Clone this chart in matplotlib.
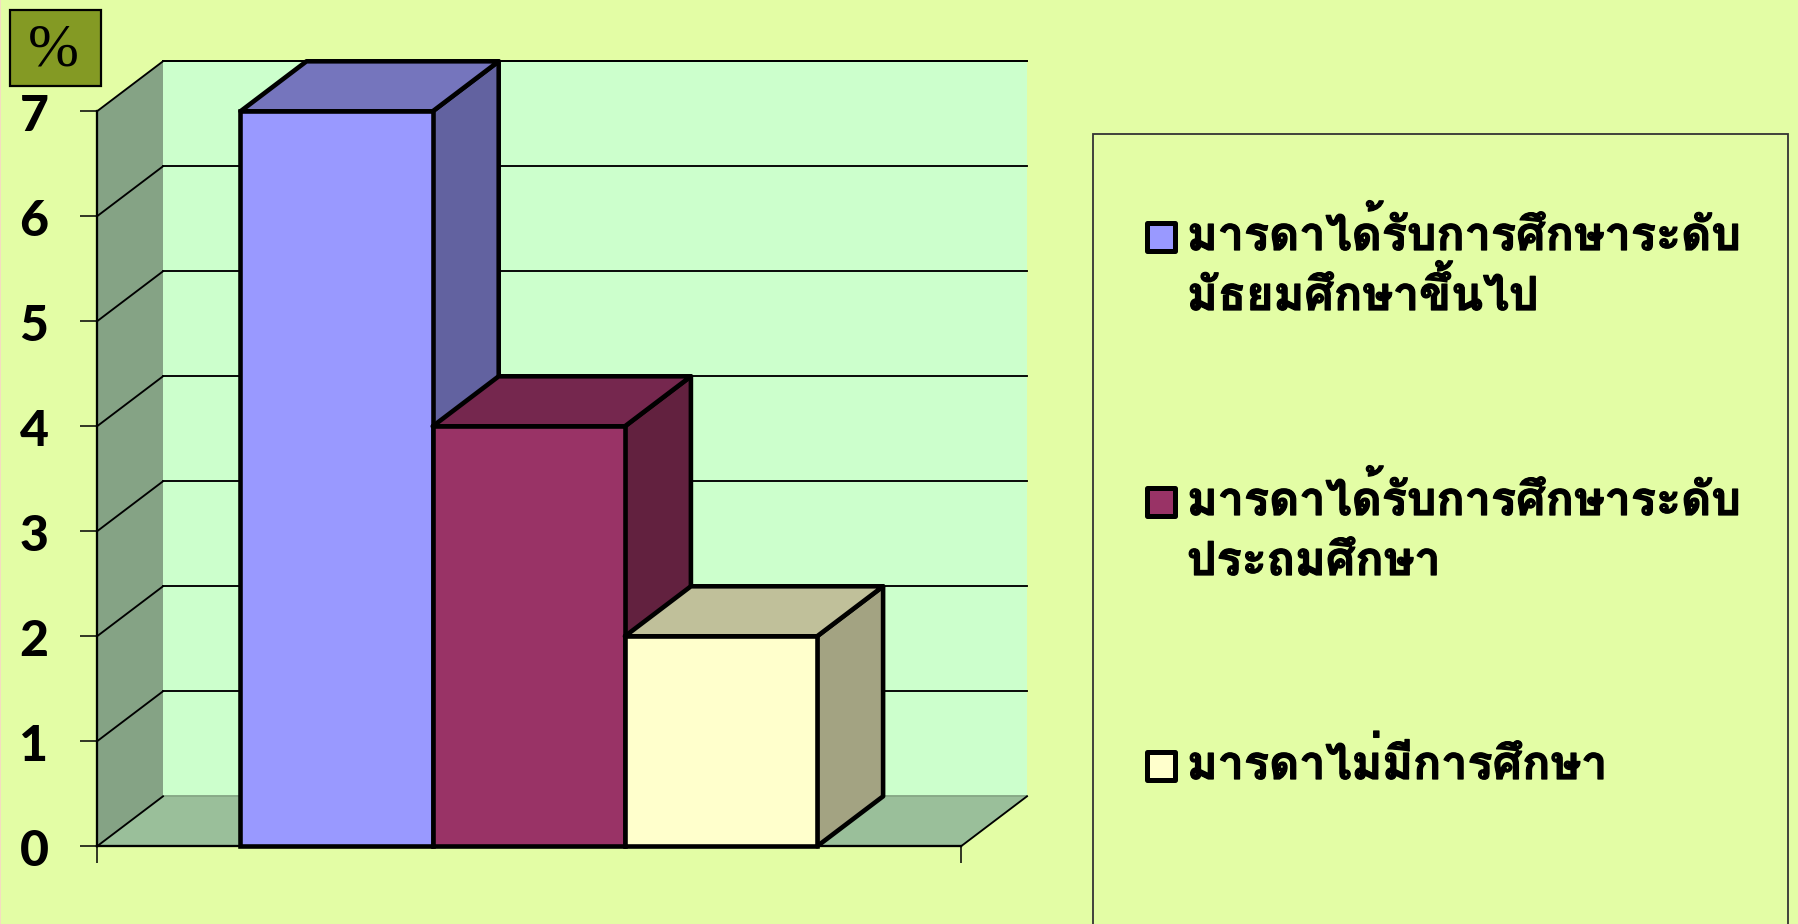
import matplotlib
matplotlib.use('Agg')
import matplotlib.pyplot as plt
import matplotlib.patheffects as pe
from matplotlib.patches import Rectangle, Polygon

W, H = 1799, 924
values = [7, 4, 2]
series_labels = [
    ["มารดาได้รับการศึกษาระดับ", "มัธยมศึกษาขึ้นไป"],
    ["มารดาได้รับการศึกษาระดับ", "ประถมศึกษา"],
    ["มารดาไม่มีการศึกษา"],
]
y_ticks = [0, 1, 2, 3, 4, 5, 6, 7]
unit_label = "%"

front = ['#9999FF', '#993366', '#FFFFCC']
top = ['#7575BD', '#75274E', '#C0C09A']
side = ['#6262A0', '#62213F', '#A3A382']
BG = '#E3FDA5'

fig = plt.figure(figsize=(W / 100, H / 100), dpi=100, facecolor=BG)

# front plane of the 3-D box
x0, x1, y0, y7 = 97, 961, 846.3, 111.3
ax = fig.add_axes([x0 / W, 1 - y0 / H, (x1 - x0) / W, (y0 - y7) / H])
ax.set_xlim(0, 1)
ax.set_ylim(0, 7)
ax.patch.set_visible(False)
for s in ax.spines.values():
    s.set_visible(False)

dx = 66 / (x1 - x0)
dy = 50 / 105.0
thin = 1.35
wall = dict(clip_on=False, lw=0)

# walls and floor
ax.add_patch(Polygon([(dx, dy), (1 + dx, dy), (1 + dx, 7 + dy), (dx, 7 + dy)], fc='#CCFFCC', zorder=1, **wall))
ax.add_patch(Polygon([(0, 0), (dx, dy), (dx, 7 + dy), (0, 7)], fc='#85A385', zorder=1, **wall))
ax.add_patch(Polygon([(0, 0), (1, 0), (1 + dx, dy), (dx, dy)], fc='#9ABF9A', zorder=1, **wall))
for t in y_ticks[1:] + [7]:
    ax.plot([dx, 1 + dx], [t + dy, t + dy], color='k', lw=thin, zorder=2, clip_on=False)
for t in y_ticks[1:]:
    ax.plot([0, dx], [t, t + dy], color='k', lw=thin, zorder=2, clip_on=False)
ax.plot([dx, 1 + dx], [dy, dy], color='#86A886', lw=thin, zorder=2, clip_on=False)
ax.plot([0, 0], [0, 7], color='k', lw=thin + .3, zorder=2, clip_on=False)
ax.plot([0, dx], [0, dy], color='k', lw=thin, zorder=2, clip_on=False)
ax.plot([1, 1 + dx], [0, dy], color='k', lw=thin, zorder=2, clip_on=False)
ax.plot([0, 1], [0, 0], color='k', lw=thin + .3, zorder=2, clip_on=False)

# bars
bar_w = 192.2 / (x1 - x0)
start = (240.5 - x0) / (x1 - x0)
blw = 3.3
for i, v in enumerate(values):
    l = start + i * bar_w
    r = l + bar_w
    z = 3 + i
    kw = dict(ec='k', lw=blw, joinstyle='round', clip_on=False, zorder=z)
    ax.add_patch(Polygon([(r, 0), (r + dx, dy), (r + dx, v + dy), (r, v)], fc=side[i], **kw))
    ax.add_patch(Polygon([(l, v), (r, v), (r + dx, v + dy), (l + dx, v + dy)], fc=top[i], **kw))
    ax.bar(l, v, width=bar_w, align='edge', color=front[i], edgecolor='k', linewidth=blw,
           clip_on=False, zorder=z + .5)

# axes ticks
ax.set_yticks(y_ticks)
ax.set_yticklabels([])
ax.tick_params(axis='y', length=12.5, width=1.1, color='k')
ax.set_xticks([0, 1])
ax.set_xticklabels([])
ax.tick_params(axis='x', length=12.5, width=1.1, color='k')
for t in y_ticks:
    px = y0 - t * 105.0 + 1.5
    fig.text(34 / W, 1 - px / H, str(t), family='Lato', weight=900, fontsize=36,
             ha='center', va='center_baseline', color='k')


def P(x, y):
    return x / W, 1 - y / H


# unit box
fig.add_artist(Rectangle(P(10, 85.5), 91 / W, 76 / H, transform=fig.transFigure,
                         fc='#849A24', ec='k', lw=1.6))
fig.text(*P(53.5, 51), unit_label, family='Liberation Serif', fontsize=44, ha='center',
         va='center', color='k')

# legend box, running off the bottom of the picture
fig.add_artist(Rectangle(P(1093, 930), 695 / W, 796 / H, transform=fig.transFigure,
                         fc='none', ec='#333333', lw=1.3))
squares = [222, 487, 751]
baselines = [[250, 310], [515, 575], [779]]
stroke = [pe.withStroke(linewidth=0.9, foreground='k')]
for i, lines in enumerate(series_labels):
    fig.add_artist(Rectangle(P(1147.5, squares[i] + 28.5), 28 / W, 27.5 / H, transform=fig.transFigure,
                             fc=front[i], ec='k', lw=3.6, joinstyle='round'))
    for line, b in zip(lines, baselines[i]):
        fig.text(*P(1187, b), line, family=['Loma', 'Noto Sans Thai Looped'], weight='bold',
                 fontsize=33.6, ha='left', va='baseline', color='k', path_effects=stroke)

# thin pale edge at the far left of the picture
fig.add_artist(Rectangle((0, 0), 1.5 / W, 1, transform=fig.transFigure, fc='#F4DCC0', ec='none'))

fig.savefig('out.png', dpi=100, facecolor=BG)
